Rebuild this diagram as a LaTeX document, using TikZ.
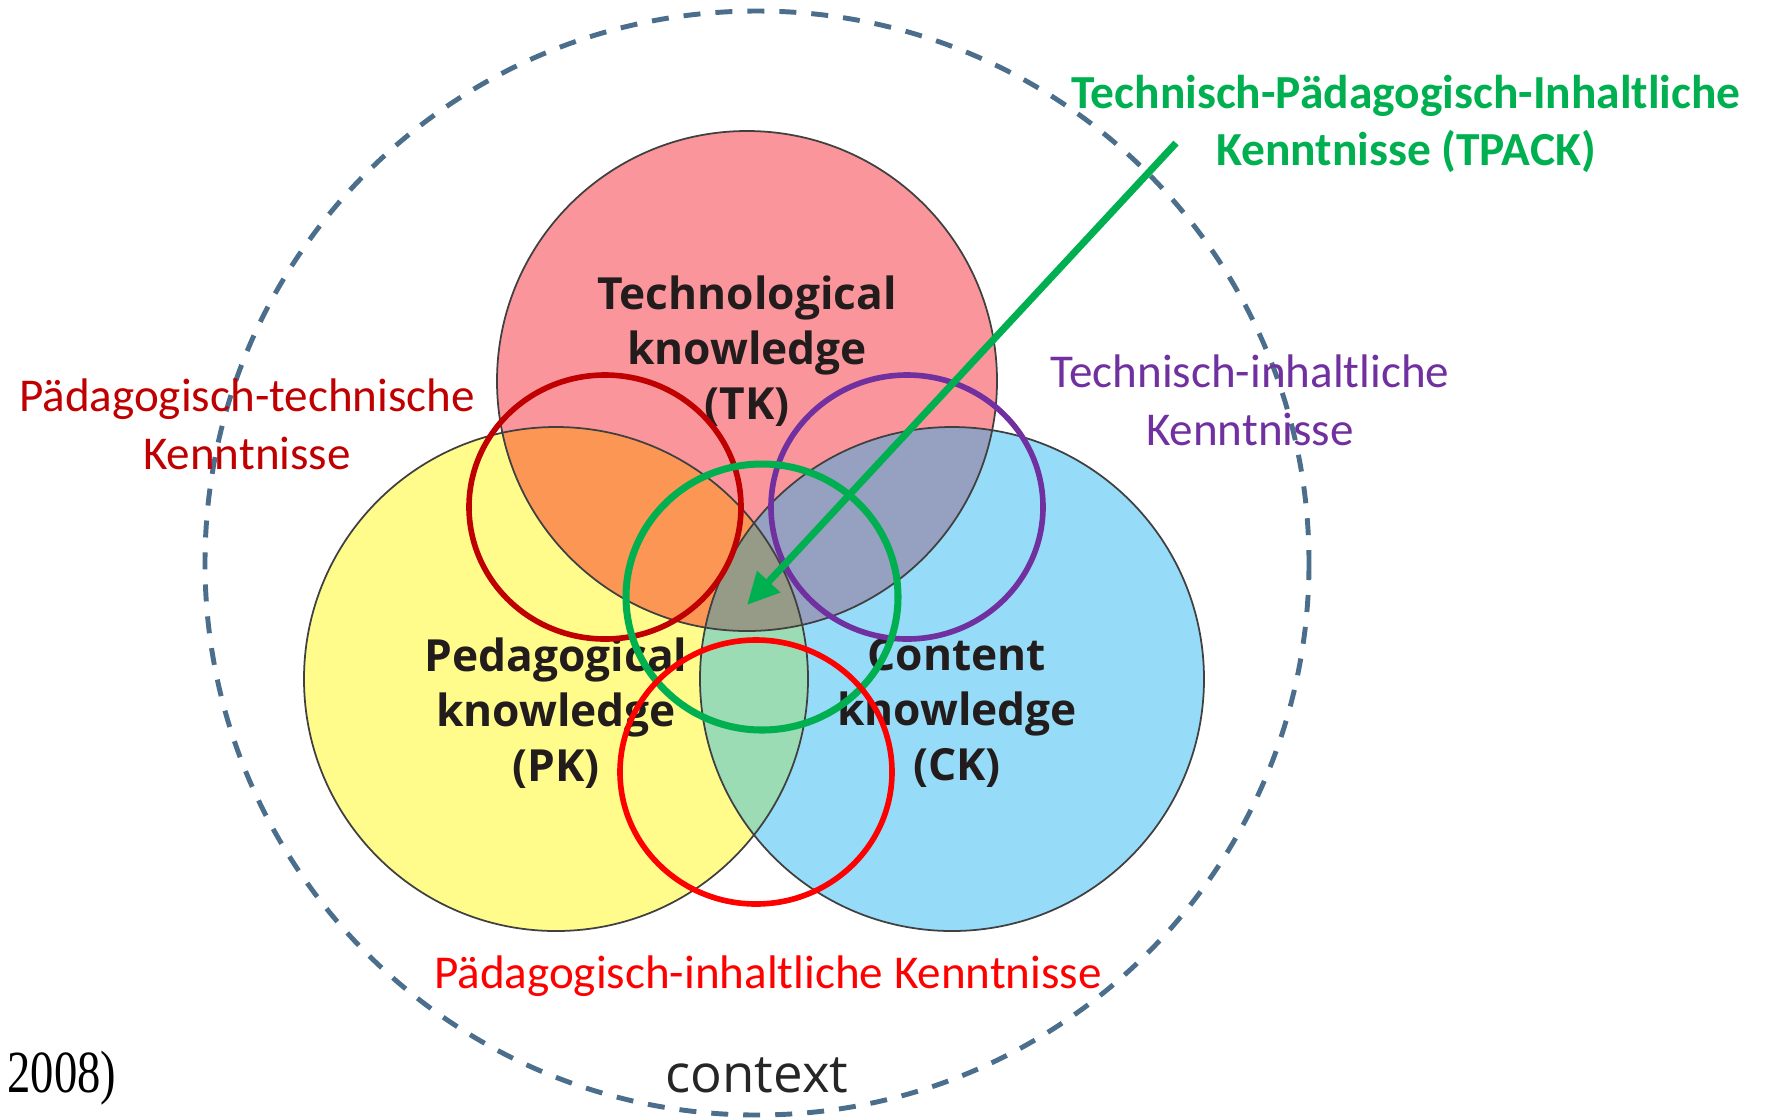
\documentclass[tikz,border=0pt]{standalone}
\usepackage{fontspec}
\setmainfont{Carlito}
\newfontfamily\vennfont{Open Sans}
\newfontfamily\yearfont{Liberation Serif}
\usetikzlibrary{arrows.meta}

\definecolor{tkfill}{RGB}{250,150,155}
\definecolor{pkfill}{RGB}{255,252,140}
\definecolor{ckfill}{RGB}{150,220,248}
\definecolor{tpfill}{RGB}{252,150,85}
\definecolor{tcfill}{RGB}{150,160,192}
\definecolor{pcfill}{RGB}{155,220,180}
\definecolor{allfill}{RGB}{150,155,135}
\definecolor{ctxblue}{RGB}{75,110,140}
\definecolor{tpackgreen}{RGB}{0,176,80}
\definecolor{ptred}{RGB}{192,0,0}
\definecolor{tcpurple}{RGB}{112,48,160}
\definecolor{pcred}{RGB}{255,0,0}
\definecolor{venntext}{RGB}{35,28,28}

\tikzset{
  label text/.style={font=\fontsize{13.4}{16.5}\selectfont, align=center},
  venn text/.style={font=\vennfont\bfseries\fontsize{12.6}{15.6}\selectfont, align=center, text=venntext},
  ring/.style={line width=1.6pt}
}

\begin{document}
\begin{tikzpicture}[x=0.1mm, y=-0.1mm]
            \useasboundingbox (0,0) rectangle (1765,1118);

            \coordinate (ctx) at (757,563);
            \coordinate (tk) at (747,381);
            \coordinate (pk) at (556,679);
            \coordinate (ck) at (952,679);

            \draw[ctxblue, line width=1.4pt, dash pattern=on 1.7mm off 1.5mm] (ctx) circle [radius=552];

            \fill[tkfill] (tk) circle [radius=250];
            \fill[pkfill] (pk) circle [radius=252];
            \fill[ckfill] (ck) circle [radius=252];
            \begin{scope}
                \clip (pk) circle [radius=252];
                \fill[pcfill] (ck) circle [radius=252];
            \end{scope}
            \begin{scope}
                \clip (tk) circle [radius=250];
                \fill[tpfill] (pk) circle [radius=252];
                \fill[tcfill] (ck) circle [radius=252];
                \clip (pk) circle [radius=252];
                \fill[allfill] (ck) circle [radius=252];
            \end{scope}
            \draw[black!75, line width=0.5pt] (tk) circle [radius=250];
            \draw[black!75, line width=0.5pt] (pk) circle [radius=252];
            \draw[black!75, line width=0.5pt] (ck) circle [radius=252];

            \node[venn text] (tklabel) at (747,351) {Technological\\knowledge\\(TK)};
            \node[venn text] (pklabel) at (556,713) {Pedagogical\\knowledge\\(PK)};
            \node[venn text] (cklabel) at (957,713) {Content\\knowledge\\(CK)};
            \node[font=\vennfont\fontsize{15}{17}\selectfont, text=black!85] (context) at (757,1075) {context};

            \coordinate (pt) at (605,507);
            \coordinate (tc) at (907,507);
            \coordinate (tpack) at (762,597);
            \coordinate (pc) at (756,772);
            \draw[ring, ptred] (pt) ellipse [x radius=136, y radius=132];
            \draw[ring, tcpurple] (tc) ellipse [x radius=136, y radius=132];
            \draw[ring, tpackgreen, line width=2pt] (tpack) ellipse [x radius=136, y radius=133];
            \draw[ring, pcred] (pc) ellipse [x radius=136, y radius=132];

            \node[label text, text=tpackgreen, font=\bfseries\fontsize{13.5}{16}\selectfont] (tpacklabel) at (1406,124) {Technisch-Pädagogisch-Inhaltliche\\Kenntnisse (TPACK)};
            \node[label text, text=ptred] (ptlabel) at (247,424) {Pädagogisch-technische\\Kenntnisse};
            \node[label text, text=tcpurple] (tclabel) at (1250,400) {Technisch-inhaltliche\\Kenntnisse};
            \node[label text, text=pcred] (pclabel) at (768,976) {Pädagogisch-inhaltliche Kenntnisse};
            \node[font=\yearfont\fontsize{17}{20}\selectfont, xscale=0.78, anchor=west] (year) at (-2,1078) {2008)};

            \coordinate (arrowstart) at (1176,143);
            \coordinate (arrowtip) at (747,605);
            \draw[tpackgreen, line width=2pt, -{Triangle[length=3.2mm, width=3mm]}] (arrowstart) -- (arrowtip);
        \end{tikzpicture}
\end{document}
